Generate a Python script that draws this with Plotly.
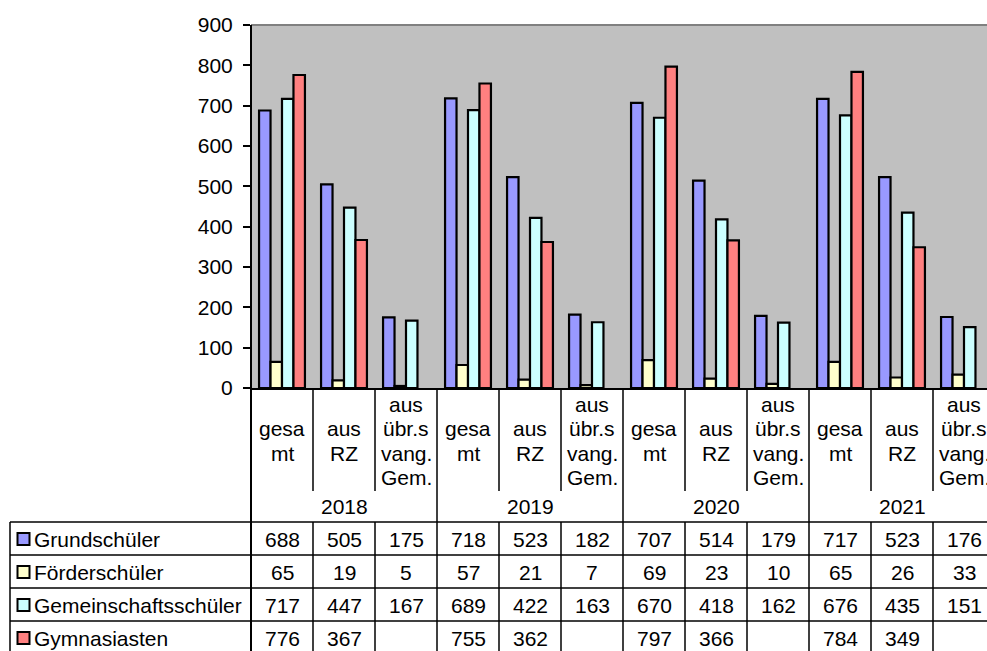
import plotly.graph_objects as go

# ---- data ----
years = ["2018", "2019", "2020", "2021"]
sub_labels = [["gesa", "mt"], ["aus", "RZ"], ["aus", "übr.s", "vang.", "Gem."]]
series_names = ["Grundschüler", "Förderschüler", "Gemeinschaftsschüler", "Gymnasiasten"]
grundschueler = [688, 505, 175, 718, 523, 182, 707, 514, 179, 717, 523, 176]
foerderschueler = [65, 19, 5, 57, 21, 7, 69, 23, 10, 65, 26, 33]
gemeinschaftsschueler = [717, 447, 167, 689, 422, 163, 670, 418, 162, 676, 435, 151]
gymnasiasten = [776, 367, None, 755, 362, None, 797, 366, None, 784, 349, None]
colors = ["#9999FF", "#FFFFCC", "#CCFFFF", "#FF8080"]

series_values = [grundschueler, foerderschueler, gemeinschaftsschueler, gymnasiasten]
n_cat = len(grundschueler)
xs = list(range(n_cat))

W, H = 987, 651
PL, PT, PW, PH = 251, 25, 736, 363
FONT = "Arial, Liberation Sans, sans-serif"
FS = 21


def py(ypx):
    return (PT + PH - ypx) / PH


def pxp(xpx):
    return (xpx - PL) / PW


fig = go.Figure()
for name, vals, col in zip(series_names, series_values, colors):
    fig.add_trace(go.Bar(x=xs, y=vals, name=name, marker=dict(color=col, line=dict(color="black", width=2.2)),
                         showlegend=False))

shapes = []
annotations = []

# top border of plot area
shapes.append(dict(type="line", xref="paper", yref="paper", x0=0, x1=1, y0=1, y1=1,
                   line=dict(color="#808080", width=2)))
# left axis line extended down through table
shapes.append(dict(type="line", xref="paper", yref="paper", x0=0, x1=0, y0=1, y1=py(H),
                   line=dict(color="black", width=2)))

# category dividers
for b in range(1, n_cat + 1):
    xb = b - 0.5
    y0 = 0
    if b % 3 != 0:
        shapes.append(dict(type="line", xref="x", yref="paper", x0=xb, x1=xb, y0=0, y1=py(491),
                           line=dict(color="black", width=1.5)))
        y0 = py(522)
    shapes.append(dict(type="line", xref="x", yref="paper", x0=xb, x1=xb, y0=y0, y1=py(H),
                       line=dict(color="black", width=1.5)))

# table horizontal lines
for ypx in [522, 555, 588, 621]:
    shapes.append(dict(type="line", xref="paper", yref="paper", x0=pxp(10), x1=1, y0=py(ypx), y1=py(ypx),
                       line=dict(color="black", width=1.5)))
# left table border
shapes.append(dict(type="line", xref="paper", yref="paper", x0=pxp(10), x1=pxp(10), y0=py(522), y1=py(H),
                   line=dict(color="black", width=1.5)))

# category labels
line_y = [405, 429, 453, 477]
for i in range(n_cat):
    lines = sub_labels[i % 3]
    start = 1 if len(lines) == 2 else 0
    for k, t in enumerate(lines):
        annotations.append(dict(xref="x", yref="paper", x=i, y=py(line_y[start + k]), text=t, showarrow=False,
                                xanchor="center", yanchor="middle", font=dict(family=FONT, size=FS, color="black")))
# year labels
for j, yr in enumerate(years):
    annotations.append(dict(xref="x", yref="paper", x=3 * j + 1, y=py(507), text=yr, showarrow=False,
                            xanchor="center", yanchor="middle", font=dict(family=FONT, size=FS, color="black")))

# data table rows
row_c = [539, 572, 605, 638]
for r, (name, vals, col) in enumerate(zip(series_names, series_values, colors)):
    yc = row_c[r]
    shapes.append(dict(type="rect", xref="paper", yref="paper", x0=pxp(17.5), x1=pxp(29.5),
                       y0=py(yc - 6), y1=py(yc + 6), fillcolor=col, line=dict(color="black", width=2)))
    annotations.append(dict(xref="paper", yref="paper", x=pxp(32), y=py(yc), text=name, showarrow=False,
                            xanchor="left", yanchor="middle", font=dict(family=FONT, size=FS, color="black")))
    for i, v in enumerate(vals):
        if v is None:
            continue
        annotations.append(dict(xref="x", yref="paper", x=i, y=py(yc), text=str(v), showarrow=False,
                                xanchor="center", yanchor="middle", font=dict(family=FONT, size=FS, color="black")))

fig.update_layout(
    width=W, height=H,
    margin=dict(l=PL, r=W - PL - PW, t=PT, b=H - PT - PH, pad=0),
    paper_bgcolor="white", plot_bgcolor="#C0C0C0",
    barmode="group", bargap=0.26, bargroupgap=0,
    font=dict(family=FONT, size=FS, color="black"),
    xaxis=dict(range=[-0.5, -0.5 + PW / 62.0], showticklabels=False, ticks="", showgrid=False,
               zeroline=False, showline=True, linecolor="black", linewidth=2, fixedrange=True),
    yaxis=dict(range=[0, 900], dtick=100, tick0=0, ticks="outside", ticklen=7, tickwidth=1.5,
               tickcolor="black", showgrid=False, zeroline=False, showline=False,
               ticklabelstandoff=6, tickfont=dict(family=FONT, size=FS, color="black"), fixedrange=True),
    shapes=shapes, annotations=annotations,
)

fig.write_html("out.html")
